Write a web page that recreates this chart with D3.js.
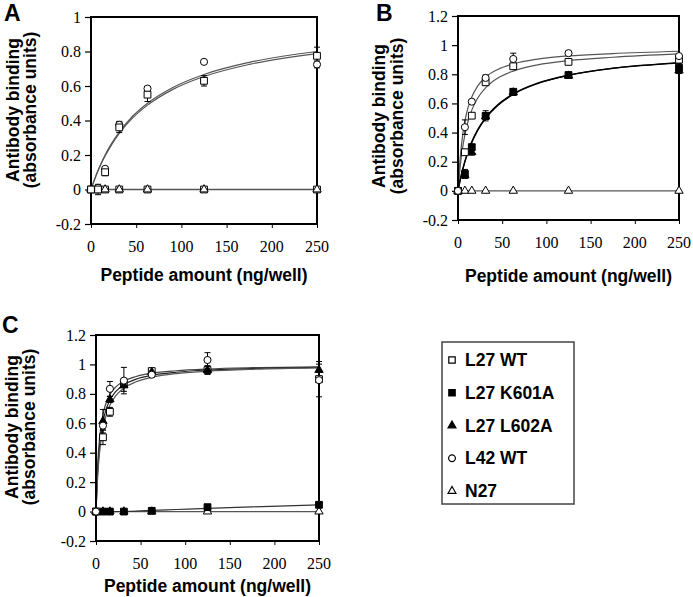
<!DOCTYPE html>
<html>
<head>
<meta charset="utf-8">
<script src="https://cdn.jsdelivr.net/npm/d3@7"></script>
<style>
  html, body { margin: 0; padding: 0; background: #fff; }
  svg { display: block; }
</style>
</head>
<body>
<svg id="chart" width="693" height="597"></svg>
<script>
// ---------------- DATA ----------------
const doses = [0, 7.8, 15.6, 31.25, 62.5, 125, 250];
const xTicks = [0, 50, 100, 150, 200, 250];
const yTicksA = [-0.2, 0, 0.2, 0.4, 0.6, 0.8, 1];
const yTicksBC = [-0.2, 0, 0.2, 0.4, 0.6, 0.8, 1, 1.2];
const seriesNames = ["L27 WT", "L27 K601A", "L27 L602A", "L42 WT", "N27"];
const panelLetters = ["A", "B", "C"];
const xTitle = "Peptide amount (ng/well)";
const yTitle1 = "Antibody binding";
const yTitle2 = "(absorbance units)";

// Panel A measured points
const aL27WT = [0, 0.00, 0.10, 0.36, 0.55, 0.63, 0.775];
const aL27WTErr = [0, 0.03, 0.02, 0.03, 0.04, 0.03, 0.05];
const aL42WT = [0, 0.01, 0.12, 0.375, 0.585, 0.74, 0.725];
const aL42WTErr = [0, 0, 0.01, 0.02, 0.01, 0, 0.02];
const aZeroSquare = [0, 0, 0, 0, 0, 0, 0];
const aN27 = [0, 0, 0, 0, 0, 0, 0];

// Panel B measured points
const bL27WT = [0, 0.265, 0.516, 0.745, 0.855, 0.885, 0.90];
const bL27WTErr = [0, 0.02, 0.02, 0.02, 0.02, 0.01, 0.02];
const bK601A = [0, 0.117, 0.30, 0.515, 0.68, 0.795, 0.845];
const bK601AErr = [0, 0.03, 0.02, 0.035, 0.02, 0.015, 0.03];
const bL602A = [0, 0.105, 0.265, 0.51, 0.675, 0.79, 0.825];
const bL602AErr = [0, 0.02, 0.02, 0.02, 0.02, 0.01, 0.02];
const bL42WT = [0, 0.437, 0.612, 0.775, 0.905, 0.945, 0.925];
const bL42WTErr = [0, 0.05, 0.01, 0.02, 0.04, 0.01, 0.01];
const bN27 = [0, 0, 0, 0, 0, 0, 0];

// Panel C measured points
const cL27WT = [0, 0.505, 0.678, 0.87, 0.955, 0.962, 0.90];
const cL27WTErr = [0, 0.05, 0.03, 0.02, 0.01, 0.02, 0.12];
const cK601A = [0, 0, 0, 0, 0.005, 0.03, 0.046];
const cL602A = [0, 0.614, 0.762, 0.857, 0.948, 0.962, 0.962];
const cL602AErr = [0, 0.08, 0.02, 0.04, 0.01, 0.03, 0.04];
const cL42WT = [0, 0.584, 0.834, 0.89, 0.93, 1.03, 0.893];
const cL42WTErr = [0, 0.03, 0.05, 0.09, 0.01, 0.05, 0.01];
const cN27 = [0, 0, 0, 0, 0, 0, 0];

// Fitted curves at these x positions
const curveX = [0, 2, 4, 7.8, 11, 15.6, 22, 31.25, 45, 62.5, 90, 125, 175, 250];
const aFitL42 = [0, 0.031, 0.06, 0.111, 0.15, 0.2, 0.26, 0.333, 0.419, 0.5, 0.59, 0.667, 0.737, 0.8];
const aFitL27 = [0, 0.03, 0.058, 0.108, 0.146, 0.194, 0.253, 0.325, 0.409, 0.489, 0.579, 0.655, 0.725, 0.788];
const aFitZero = [0, 0, 0, 0, 0, 0, 0, 0, 0, 0, 0, 0, 0, 0];
const bFitL42 = [0, 0.192, 0.321, 0.479, 0.564, 0.644, 0.717, 0.78, 0.833, 0.871, 0.904, 0.926, 0.942, 0.958];
const bFitL27 = [0, 0.14, 0.245, 0.386, 0.469, 0.554, 0.634, 0.707, 0.774, 0.822, 0.865, 0.894, 0.917, 0.94];
const bFitK601A = [0, 0.062, 0.116, 0.203, 0.264, 0.337, 0.417, 0.503, 0.591, 0.666, 0.739, 0.794, 0.841, 0.88];
const bFitL602A = [0, 0.06, 0.113, 0.199, 0.259, 0.331, 0.411, 0.497, 0.586, 0.662, 0.736, 0.793, 0.841, 0.877];
const bFitN27 = [0, 0, 0, 0, 0, 0, 0, 0, 0, 0, 0, 0, 0, 0];
const cFitL42 = [0, 0.333, 0.5, 0.661, 0.733, 0.796, 0.846, 0.887, 0.918, 0.94, 0.957, 0.969, 0.978, 0.984];
const cFitL602A = [0, 0.286, 0.444, 0.609, 0.688, 0.757, 0.815, 0.862, 0.9, 0.926, 0.947, 0.962, 0.972, 0.98];
const cFitL27 = [0, 0.25, 0.4, 0.565, 0.647, 0.722, 0.786, 0.839, 0.882, 0.912, 0.938, 0.954, 0.967, 0.977];
const cFitK601A = [0, 0, 0, 0, 0, 0, 0, 0.001, 0.003, 0.008, 0.014, 0.022, 0.032, 0.045];
const cFitN27 = [0, 0, 0, 0, 0, 0, 0, 0, 0, 0, 0, 0, 0, 0];

// ---------------- DRAWING ----------------
const SANS = "'Liberation Sans', Arial, Helvetica, sans-serif";
const SERIF = "'Liberation Serif', 'Times New Roman', serif";
const svg = d3.select("#chart");

const sym = {
  "L27 WT":    { type: d3.symbolSquare,   size: 46, fill: "#fff" },
  "L27 K601A": { type: d3.symbolSquare,   size: 46, fill: "#000" },
  "L27 L602A": { type: d3.symbolTriangle, size: 30, fill: "#000" },
  "L42 WT":    { type: d3.symbolCircle,   size: 40, fill: "#fff" },
  "N27":       { type: d3.symbolTriangle, size: 30, fill: "#fff" }
};

function panel(cfg) {
  const x = d3.scaleLinear().domain([0, 250]).range([cfg.left, cfg.right]);
  const y = d3.scaleLinear().domain([-0.2, cfg.yMax]).range([cfg.bottom, cfg.top]);
  const g = svg.append("g");

  // curves
  const line = d3.line().x(d => x(d[0])).y(d => y(d[1])).curve(d3.curveMonotoneX);
  cfg.curves.forEach(c => {
    g.append("path")
      .attr("d", line(curveX.map((cx, i) => [cx, c.values[i]])))
      .attr("fill", "none")
      .attr("stroke", c.color)
      .attr("stroke-width", c.width);
  });

  // y axis (tick marks from the axis, labels drawn as own text)
  const yAxis = g.append("g").attr("transform", `translate(${cfg.left},0)`)
    .call(d3.axisLeft(y).tickValues(cfg.yTicks).tickSize(6).tickFormat(""));
  yAxis.select(".domain").remove();
  yAxis.selectAll("line").attr("stroke", "#000").attr("stroke-width", 1.2);
  g.append("g").selectAll("text").data(cfg.yTicks).join("text")
    .attr("x", cfg.left - 10).attr("y", d => y(d)).attr("dy", "0.35em")
    .attr("text-anchor", "end")
    .attr("font-family", SERIF).attr("font-size", 16).attr("fill", "#000")
    .text(d => String(+d.toFixed(1)));

  // x axis
  const xAxis = g.append("g").attr("transform", `translate(0,${cfg.bottom})`)
    .call(d3.axisBottom(x).tickValues(xTicks).tickSize(4).tickFormat(""));
  xAxis.select(".domain").remove();
  xAxis.selectAll("line").attr("stroke", "#000").attr("stroke-width", 1);
  g.append("g").selectAll("text").data(xTicks).join("text")
    .attr("x", d => x(d)).attr("y", cfg.bottom + 28)
    .attr("text-anchor", "middle")
    .attr("font-family", SERIF).attr("font-size", 16).attr("fill", "#000")
    .text(d => String(d));

  // frame
  g.append("rect")
    .attr("x", cfg.left).attr("y", cfg.top)
    .attr("width", cfg.right - cfg.left).attr("height", cfg.bottom - cfg.top)
    .attr("fill", "none").attr("stroke", "#000").attr("stroke-width", 2);

  // error bars
  cfg.series.forEach(s => {
    if (!s.errs) return;
    doses.forEach((dx, i) => {
      const e = s.errs[i];
      if (!e) return;
      const px = x(dx), y1 = y(s.values[i] - e), y2 = y(s.values[i] + e);
      g.append("line").attr("x1", px).attr("x2", px).attr("y1", y1).attr("y2", y2)
        .attr("stroke", "#000").attr("stroke-width", 1);
      [y1, y2].forEach(yy => g.append("line").attr("x1", px - 3).attr("x2", px + 3)
        .attr("y1", yy).attr("y2", yy).attr("stroke", "#000").attr("stroke-width", 1));
    });
  });

  // markers
  cfg.series.forEach(s => {
    const m = sym[s.name];
    g.append("g").selectAll("path").data(doses.map((dx, i) => [dx, s.values[i]]))
      .join("path")
      .attr("transform", d => `translate(${x(d[0])},${y(d[1])})`)
      .attr("d", d3.symbol().type(m.type).size(m.size))
      .attr("fill", m.fill).attr("stroke", "#000").attr("stroke-width", 1);
  });

  // titles
  g.append("text").attr("x", (cfg.left + cfg.right) / 2).attr("y", cfg.xTitleY)
    .attr("text-anchor", "middle").attr("font-family", SANS).attr("font-weight", "bold")
    .attr("font-size", 17.5).text(xTitle);
  [[yTitle1, cfg.yTitleX1], [yTitle2, cfg.yTitleX2]].forEach(([t, tx]) => {
    g.append("text").attr("transform", `translate(${tx},${cfg.yTitleCY}) rotate(-90)`)
      .attr("text-anchor", "middle").attr("font-family", SANS).attr("font-weight", "bold")
      .attr("font-size", 17.5).text(t);
  });
  g.append("text").attr("x", cfg.letterX).attr("y", cfg.letterY)
    .attr("font-family", SANS).attr("font-weight", "bold").attr("font-size", 23).text(cfg.letter);
}

const GRAY = "#555", BLACK = "#000";

panel({
  letter: panelLetters[0], letterX: 4, letterY: 21,
  left: 91, right: 317, top: 17, bottom: 224, yMax: 1, yTicks: yTicksA,
  xTitleY: 281, yTitleX1: 19, yTitleX2: 36, yTitleCY: 110,
  curves: [
    { values: aFitZero, color: GRAY, width: 1.3 },
    { values: aFitL42, color: GRAY, width: 1.2 },
    { values: aFitL27, color: GRAY, width: 1.2 }
  ],
  series: [
    { name: "L27 WT", values: aZeroSquare },
    { name: "N27", values: aN27 },
    { name: "L42 WT", values: aL42WT, errs: aL42WTErr },
    { name: "L27 WT", values: aL27WT, errs: aL27WTErr }
  ]
});

panel({
  letter: panelLetters[1], letterX: 376, letterY: 21,
  left: 458, right: 679, top: 16, bottom: 220, yMax: 1.2, yTicks: yTicksBC,
  xTitleY: 282, yTitleX1: 385, yTitleX2: 403, yTitleCY: 116,
  curves: [
    { values: bFitN27, color: GRAY, width: 1.2 },
    { values: bFitL42, color: GRAY, width: 1.2 },
    { values: bFitL27, color: GRAY, width: 1.2 },
    { values: bFitK601A, color: BLACK, width: 1.4 },
    { values: bFitL602A, color: BLACK, width: 1.2 }
  ],
  series: [
    { name: "N27", values: bN27 },
    { name: "L27 L602A", values: bL602A, errs: bL602AErr },
    { name: "L27 K601A", values: bK601A, errs: bK601AErr },
    { name: "L27 WT", values: bL27WT, errs: bL27WTErr },
    { name: "L42 WT", values: bL42WT, errs: bL42WTErr }
  ]
});

panel({
  letter: panelLetters[2], letterX: 2, letterY: 333,
  left: 96, right: 319, top: 335, bottom: 541, yMax: 1.2, yTicks: yTicksBC,
  xTitleY: 592, yTitleX1: 18, yTitleX2: 35, yTitleCY: 427,
  curves: [
    { values: cFitN27, color: GRAY, width: 1.2 },
    { values: cFitK601A, color: "#333", width: 1.2 },
    { values: cFitL42, color: "#444", width: 1.2 },
    { values: cFitL602A, color: "#222", width: 1.2 },
    { values: cFitL27, color: "#555", width: 1.2 }
  ],
  series: [
    { name: "N27", values: cN27 },
    { name: "L27 K601A", values: cK601A },
    { name: "L27 WT", values: cL27WT, errs: cL27WTErr },
    { name: "L27 L602A", values: cL602A, errs: cL602AErr },
    { name: "L42 WT", values: cL42WT, errs: cL42WTErr }
  ]
});

// legend
const legend = svg.append("g");
legend.append("rect").attr("x", 442).attr("y", 342).attr("width", 132).attr("height", 162)
  .attr("fill", "#fff").attr("stroke", "#444").attr("stroke-width", 1.5);
const legY = d3.scalePoint().domain(seriesNames).range([360, 491]);
seriesNames.forEach(n => {
  const m = sym[n];
  legend.append("path").attr("transform", `translate(452,${legY(n)})`)
    .attr("d", d3.symbol().type(m.type).size(m.size * 0.9))
    .attr("fill", m.fill).attr("stroke", "#000").attr("stroke-width", 1.2);
  legend.append("text").attr("x", 465).attr("y", legY(n) + 6)
    .attr("font-family", SANS).attr("font-weight", "bold").attr("font-size", 17.5).text(n);
});
</script>
</body>
</html>
